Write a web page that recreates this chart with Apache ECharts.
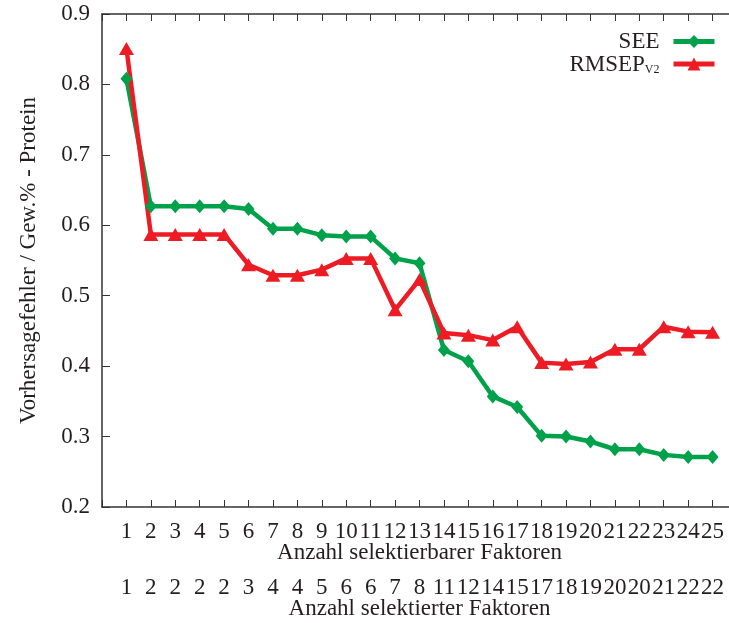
<!DOCTYPE html>
<html>
<head>
<meta charset="utf-8">
<script src="https://cdn.jsdelivr.net/npm/echarts@6/dist/echarts.min.js"></script>
<style>html,body{margin:0;padding:0;background:#fff}#c{width:729px;height:623px}</style>
</head>
<body>
<div id="c"></div>
<script>
var selectable = [1,2,3,4,5,6,7,8,9,10,11,12,13,14,15,16,17,18,19,20,21,22,23,24,25];
var selected = [1,2,2,2,2,3,4,4,5,6,6,7,8,11,12,14,15,17,18,19,20,20,21,22,22];
var seeValues = [0.808,0.627,0.627,0.627,0.627,0.623,0.595,0.595,0.586,0.584,0.584,0.553,0.546,0.423,0.407,0.357,0.342,0.301,0.300,0.293,0.282,0.282,0.274,0.271,0.271];
var rmsepValues = [0.851,0.587,0.587,0.587,0.587,0.544,0.529,0.529,0.537,0.553,0.553,0.480,0.523,0.447,0.444,0.437,0.456,0.405,0.403,0.406,0.424,0.424,0.456,0.449,0.448];
var yTicks = [0.2,0.3,0.4,0.5,0.6,0.7,0.8,0.9];

var FONT = "'Liberation Serif','Times New Roman',serif";
var FS = 23;
var TXT = '#231f20';
var AX = '#333333';
var GREEN = '#00a14b', RED = '#ed1c24';
function pairs(vals){ return vals.map(function(v,i){ return [selectable[i], v]; }); }

var chart = echarts.init(document.getElementById('c'), null, {renderer:'canvas'});
chart.setOption({
  animation:false,
  backgroundColor:'#ffffff',
  grid:{left:102, top:14, width:635, height:493, containLabel:false, outerBoundsMode:'none'},
  legend:[
    {data:['SEE'], right:12, top:30, orient:'vertical', align:'right', padding:0,
     itemWidth:41, itemHeight:16,
     lineStyle:{width:5},
     textStyle:{fontFamily:FONT, fontSize:FS, color:TXT, padding:[0,9,0,0]}},
    {data:['RMSEP'], right:12, top:53, orient:'vertical', align:'right', padding:0,
     itemWidth:41, itemHeight:16,
     lineStyle:{width:5},
     formatter:function(){ return '{a|RMSEP}{b|V2}'; },
     textStyle:{fontFamily:FONT, fontSize:FS, color:TXT, padding:[0,9,0,0],
       rich:{a:{fontFamily:FONT, fontSize:FS, color:TXT, verticalAlign:'bottom', lineHeight:24},
             b:{fontFamily:FONT, fontSize:12, color:TXT, verticalAlign:'bottom', lineHeight:24, padding:[9,0,0,0]}}}}
  ],
  xAxis:[
    {type:'value', position:'bottom', min:0, max:26, interval:1,
     name:'Anzahl selektierbarer Faktoren', nameLocation:'middle', nameGap:34, nameMoveOverlap:false,
     nameTextStyle:{fontFamily:FONT, fontSize:FS, color:TXT},
     axisLine:{show:true, lineStyle:{color:AX, width:1.5}},
     axisTick:{show:true, inside:true, length:7, lineStyle:{color:AX, width:1}},
     splitLine:{show:false},
     axisLabel:{margin:13, fontFamily:FONT, fontSize:FS, color:TXT, hideOverlap:false,
       formatter:function(v){ var i = selectable.indexOf(v); return i>=0 ? String(selectable[i]) : ''; }}},
    {type:'value', position:'bottom', offset:56, min:0, max:26, interval:1,
     name:'Anzahl selektierter Faktoren', nameLocation:'middle', nameGap:34, nameMoveOverlap:false,
     nameTextStyle:{fontFamily:FONT, fontSize:FS, color:TXT},
     axisLine:{show:false}, axisTick:{show:false}, splitLine:{show:false},
     axisLabel:{margin:13, fontFamily:FONT, fontSize:FS, color:TXT, hideOverlap:false,
       formatter:function(v){ var i = selectable.indexOf(v); return i>=0 ? String(selected[i]) : ''; }}},
    {type:'value', position:'top', min:0, max:26, interval:1,
     axisLine:{show:true, lineStyle:{color:AX, width:1.5}},
     axisTick:{show:true, inside:true, length:7, lineStyle:{color:AX, width:1}},
     axisLabel:{show:false}, splitLine:{show:false}}
  ],
  yAxis:[
    {type:'value', min:yTicks[0], max:yTicks[yTicks.length-1], interval:0.1,
     name:'Vorhersagefehler / Gew.% - Protein', nameLocation:'middle', nameGap:62,
     nameTextStyle:{fontFamily:FONT, fontSize:FS, color:TXT},
     axisLine:{show:true, lineStyle:{color:AX, width:1.5}},
     axisTick:{show:true, inside:true, length:8, lineStyle:{color:AX, width:1}},
     splitLine:{show:false},
     axisLabel:{margin:12, fontFamily:FONT, fontSize:FS, color:TXT,
       formatter:function(v){ return v.toFixed(1); }}}
  ],
  series:[
    {name:'SEE', type:'line', xAxisIndex:0, data:pairs(seeValues),
     symbol:'diamond', symbolSize:[12,14], showAllSymbol:true,
     lineStyle:{color:GREEN, width:4.5}, itemStyle:{color:GREEN}},
    {name:'RMSEP', type:'line', xAxisIndex:0, data:pairs(rmsepValues),
     symbol:'triangle', symbolSize:[15,13], showAllSymbol:true,
     lineStyle:{color:RED, width:4.5}, itemStyle:{color:RED}}
  ]
});
</script>
</body>
</html>
